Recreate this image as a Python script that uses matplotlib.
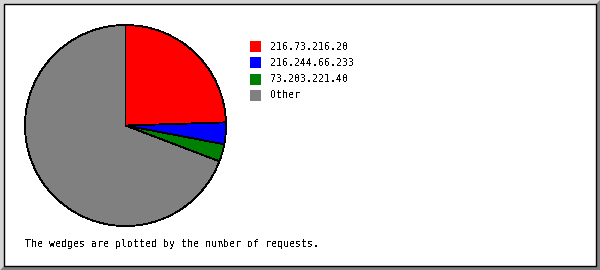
import matplotlib
matplotlib.use("Agg")
import matplotlib.pyplot as plt
from matplotlib.patches import Polygon, Rectangle

# share of requests per host (percent)
hosts = ["216.73.216.20", "216.244.66.233", "73.203.221.40", "Other"]
shares = [24.5, 3.5, 2.8, 69.2]
colors = ["#ff0000", "#0000ff", "#008000", "#808080"]
caption = "The wedges are plotted by the number of requests."

plt.rcParams["text.antialiased"] = False
font = dict(family="DejaVu Sans Mono", size=7.15, color="black")

W, H = 600, 270
fig = plt.figure(figsize=(W / 100, H / 100), dpi=100)
fig.patch.set_facecolor("white")

# frame drawn in pixel coordinates on a full-figure axes
bg = fig.add_axes([0, 0, 1, 1])
bg.set_xlim(0, W)
bg.set_ylim(H, 0)
bg.axis("off")
bg.add_patch(Polygon([(0, 0), (W, 0), (W - 4, 4), (4, 4), (4, H - 4), (0, H)],
                     closed=True, facecolor="#d4d4d4", edgecolor="none"))
bg.add_patch(Polygon([(W, 0), (W, H), (0, H), (4, H - 4), (W - 4, H - 4), (W - 4, 4)],
                     closed=True, facecolor="#808080", edgecolor="none"))
bg.add_patch(Rectangle((4, 4), W - 8, H - 8, facecolor="white",
                       edgecolor="black", linewidth=1.0))

# legend
for i, (name, col) in enumerate(zip(hosts, colors)):
    yc = 46.5 + i * 16.3
    bg.add_patch(Rectangle((250, yc - 5.5), 11, 11, facecolor=col, edgecolor="none"))
    bg.text(270, yc, name, va="center", ha="left", **font)

bg.text(25, 244, caption, va="center", ha="left", **font)

# pie
ax = fig.add_axes([25 / W, 44 / H, 201 / W, 201 / H])
ax.pie(shares, colors=colors, startangle=90, counterclock=False,
       wedgeprops=dict(edgecolor="black", linewidth=0.6, antialiased=False))
ax.set_aspect("equal")
ax.set_xlim(-1.0, 1.0)
ax.set_ylim(-1.0, 1.0)

fig.savefig("out.png", dpi=100)
